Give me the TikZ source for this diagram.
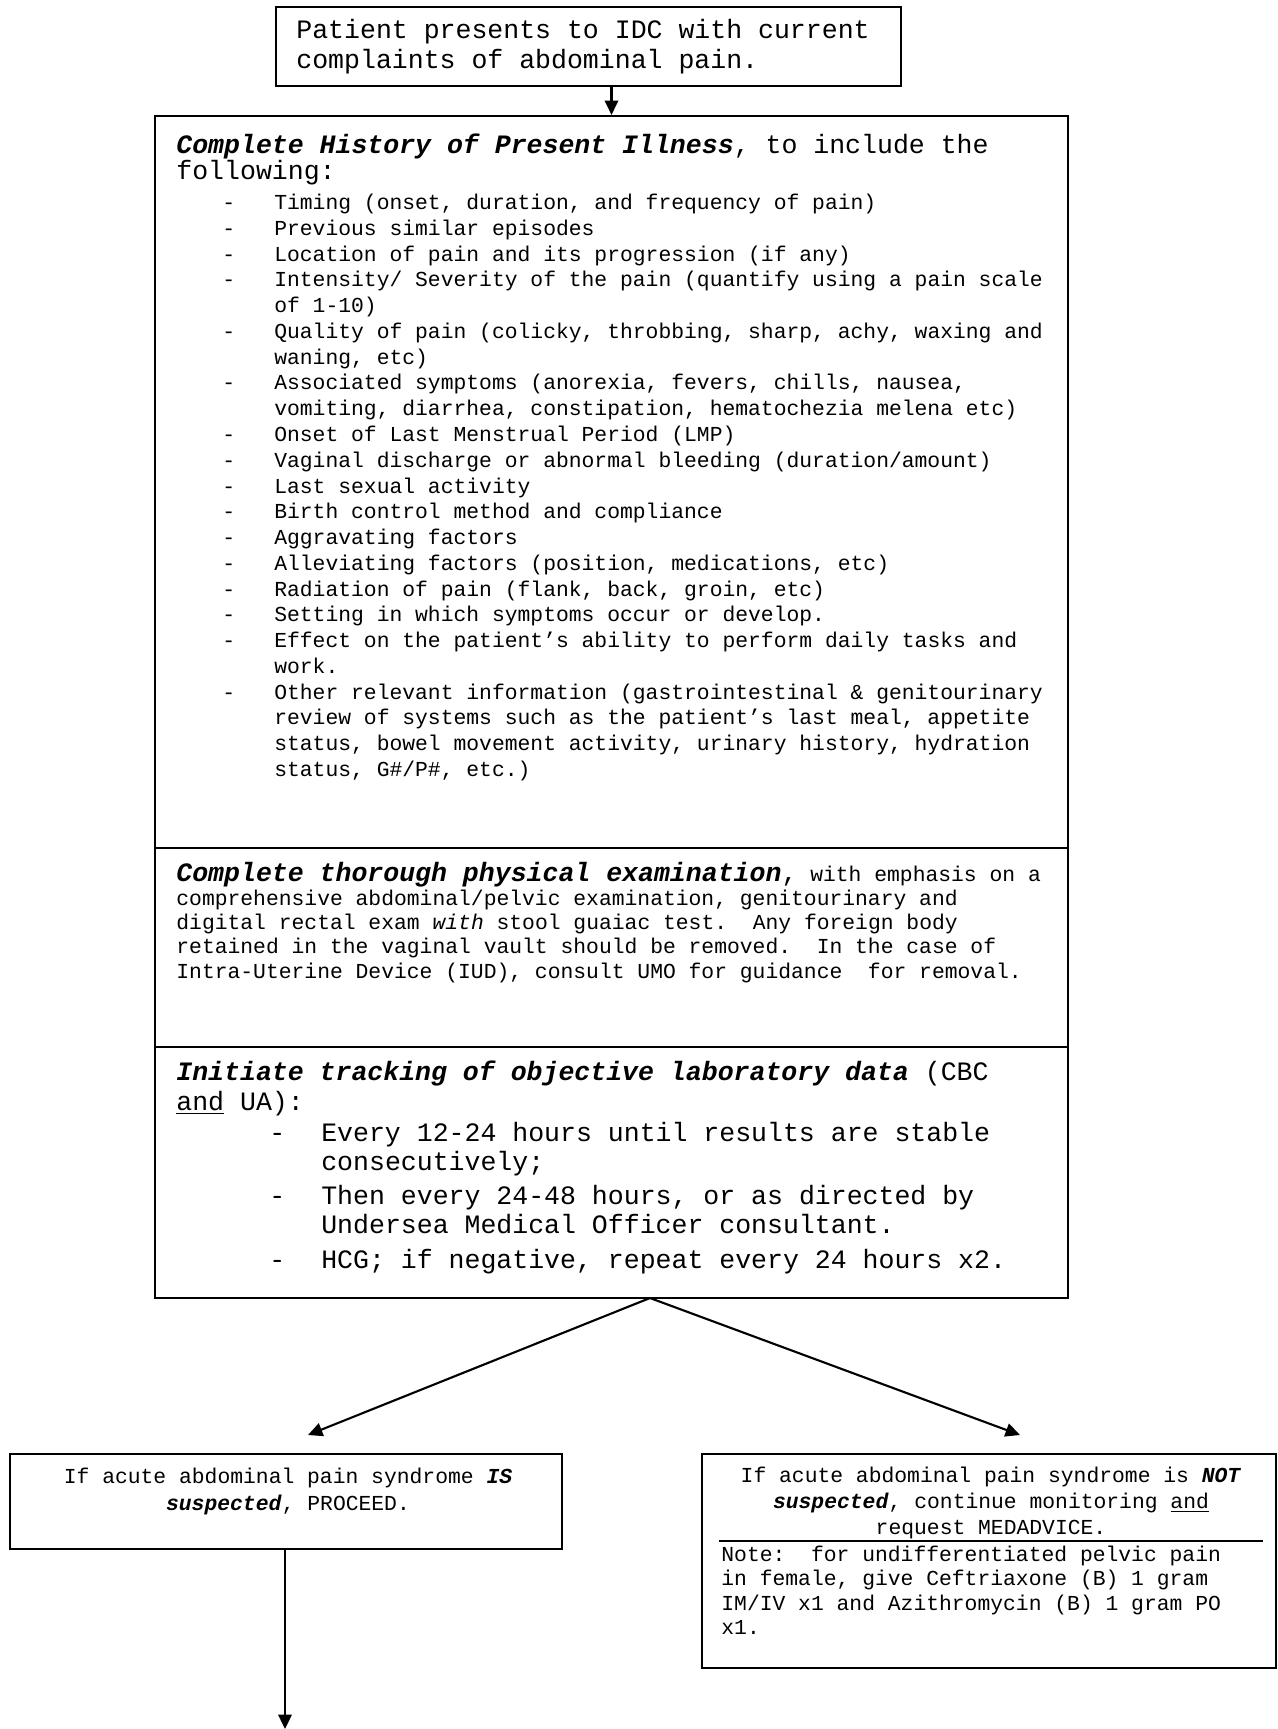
\documentclass[tikz,border=0pt]{standalone}
\usepackage{fontspec}
\setmainfont{Liberation Mono}
\usetikzlibrary{arrows.meta}
\frenchspacing
\def\unitpx{0.52pt}
\newcommand\bigf[1]{\fontsize{13.8}{#1}\selectfont}
\newcommand\smallf[1]{\fontsize{11.1}{#1}\selectfont}
\newcommand\bi[1]{\textbf{\textit{#1}}}
\newcommand\lidash{\makebox[27pt][l]{-}}
\newcommand\lipad{\hspace*{27pt}}
\tikzset{
  frame/.style={draw, line width=1.1pt, inner sep=0pt},
  txt/.style={inner sep=0pt, anchor=base west, align=left},
  ctxt/.style={inner sep=0pt, anchor=base, align=center},
  divline/.style={line width=1.1pt},
  arr/.style={line width=1.1pt, -{Triangle[length=7.5pt,width=7pt]}}
}
\begin{document}
\begin{tikzpicture}[x=0.52pt,y=-0.52pt]
\useasboundingbox (0,0) rectangle (1278,1729);
% boxes
\node[frame, minimum width=625*\unitpx, minimum height=79*\unitpx] (start) at (588.5,46.5) {};
\node[frame, minimum width=913*\unitpx, minimum height=1182*\unitpx] (workup) at (611.5,707) {};
\node[frame, minimum width=552*\unitpx, minimum height=95*\unitpx] (yes) at (286,1501.5) {};
\node[frame, minimum width=574*\unitpx, minimum height=214*\unitpx] (no) at (989,1561) {};
\draw[divline] (workup.west |- 0,848) -- (workup.east |- 0,848);
\draw[divline] (workup.west |- 0,1047) -- (workup.east |- 0,1047);
\draw[divline] (719,1541) -- (1263,1541);
% texts (placed at the baseline of their last line)
\node[txt, font={\bigf{15.1pt}}] (starttxt) at (296,68)
  {Patient presents to IDC with current\\complaints of abdominal pain.};
\node[txt, font={\bigf{13.5pt}}] (histhead) at (176,179)
  {\bi{Complete History of Present Illness}, to include the\\following:};
\node[txt, font={\smallf{13.4pt}}] (histlist) at (222,776.5) {%
  \lidash Timing (onset, duration, and frequency of pain)\\
  \lidash Previous similar episodes\\
  \lidash Location of pain and its progression (if any)\\
  \lidash Intensity/ Severity of the pain (quantify using a pain scale\\
  \lipad of 1-10)\\
  \lidash Quality of pain (colicky, throbbing, sharp, achy, waxing and\\
  \lipad waning, etc)\\
  \lidash Associated symptoms (anorexia, fevers, chills, nausea,\\
  \lipad vomiting, diarrhea, constipation, hematochezia melena etc)\\
  \lidash Onset of Last Menstrual Period (LMP)\\
  \lidash Vaginal discharge or abnormal bleeding (duration/amount)\\
  \lidash Last sexual activity\\
  \lidash Birth control method and compliance\\
  \lidash Aggravating factors\\
  \lidash Alleviating factors (position, medications, etc)\\
  \lidash Radiation of pain (flank, back, groin, etc)\\
  \lidash Setting in which symptoms occur or develop.\\
  \lidash Effect on the patient’s ability to perform daily tasks and\\
  \lipad work.\\
  \lidash Other relevant information (gastrointestinal \& genitourinary\\
  \lipad review of systems such as the patient’s last meal, appetite\\
  \lipad status, bowel movement activity, urinary history, hydration\\
  \lipad status, G\#/P\#, etc.)};
\node[txt, font={\smallf{12.5pt}}] (examtxt) at (176,978) {%
  {\bigf{12.5pt}\bi{Complete thorough physical examination},} with emphasis on a\\
  comprehensive abdominal/pelvic examination, genitourinary and\\
  digital rectal exam \textit{with} stool guaiac test.\ \ Any foreign body\\
  retained in the vaginal vault should be removed.\ \ In the case of\\
  Intra-Uterine Device (IUD), consult UMO for guidance\ \ for removal.};
\node[txt, font={\bigf{15.6pt}}] (labhead) at (176,1110)
  {\bi{Initiate tracking of objective laboratory data} (CBC\\\underline{and} UA):};
\node[txt, font={\bigf{15.1pt}}] (lablist) at (269,1268) {%
  \lidash Every 12-24 hours until results are stable\\
  \lipad consecutively;\\[2.6pt]
  \lidash Then every 24-48 hours, or as directed by\\
  \lipad Undersea Medical Officer consultant.\\[2.6pt]
  \lidash HCG; if negative, repeat every 24 hours x2.};
\node[ctxt, font={\smallf{14pt}}] (yestxt) at (288,1510)
  {If acute abdominal pain syndrome \bi{IS}\\\bi{suspected}, PROCEED.};
\node[ctxt, font={\smallf{13.3pt}}] (notxt) at (991,1534)
  {If acute abdominal pain syndrome is \bi{NOT}\\
   \bi{suspected}, continue monitoring \underline{and}\\
   request MEDADVICE.};
\node[txt, font={\smallf{12.7pt}}] (notetxt) at (721,1634.5)
  {Note:\ \ for undifferentiated pelvic pain\\
   in female, give Ceftriaxone (B) 1 gram\\
   IM/IV x1 and Azithromycin (B) 1 gram PO\\
   x1.};
% connectors
\coordinate (fork) at (650,1298);
\coordinate (yestip) at (308,1435);
\coordinate (notip) at (1020,1435);
\coordinate (next) at (285,1729);
\draw[arr] (start.south -| workup.north) -- (workup.north);
\foreach \tip in {yestip,notip}
  \draw[arr] (fork) -- (\tip);
\draw[arr] (yes.south -| next) -- (next);
\end{tikzpicture}
\end{document}
